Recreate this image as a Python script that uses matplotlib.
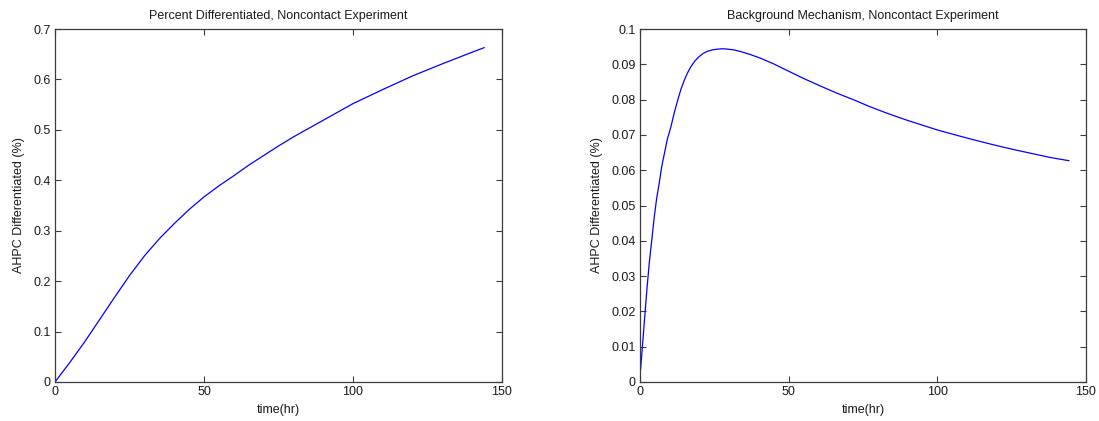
import matplotlib
matplotlib.use("Agg")
import matplotlib.pyplot as plt

plt.rcParams['font.family'] = ['Liberation Sans', 'DejaVu Sans']

# Left panel: percent differentiated
t_left = [0, 5, 10, 15, 20, 25, 30, 35, 40, 45, 50, 55, 60, 65, 70, 75, 80, 90,
          100, 110, 120, 130, 140, 144]
v_left = [0.0, 0.039, 0.080, 0.124, 0.168, 0.211, 0.250, 0.284, 0.314, 0.342,
          0.367, 0.389, 0.409, 0.430, 0.449, 0.468, 0.486, 0.519, 0.552, 0.580,
          0.607, 0.631, 0.654, 0.663]

# Right panel: background mechanism
t_right = [0.2, 1.5, 2.3, 3.1, 4.0, 4.8, 5.6, 6.5, 7.3, 8.2, 9.2, 10.4, 11.5, 12.7,
           13.8, 14.9, 16.0, 17.1, 18.5, 19.9, 21.3, 22.7, 24.4, 26.1, 27.8, 29.4,
           31.5, 33.9, 37.0, 40.6, 45.0, 49.6, 55.0, 60.8, 66.0, 72.0, 77.0, 83.2,
           90.0, 100, 110, 116, 121.3, 127, 132.5, 138, 144.2]
v_right = [0.0035, 0.0175, 0.0260, 0.0336, 0.0405, 0.0468, 0.0520, 0.0565, 0.0610,
           0.0647, 0.0688, 0.0723, 0.0762, 0.0799, 0.0830, 0.0855, 0.0876, 0.0893,
           0.0910, 0.0922, 0.0931, 0.0937, 0.0941, 0.0943, 0.0944, 0.0943, 0.0941,
           0.0936, 0.0928, 0.0917, 0.0901, 0.0882, 0.0860, 0.0838, 0.0819, 0.0799,
           0.0781, 0.0761, 0.0741, 0.0714, 0.0691, 0.0678, 0.0667, 0.0656, 0.0646,
           0.0636, 0.0627]

titles = ["Percent Differentiated, Noncontact Experiment",
          "Background Mechanism, Noncontact Experiment"]
xlabel = "time(hr)"
ylabel = "AHPC Differentiated (%)"
x_ticks = [0, 50, 100, 150]
left_yticks = [0, 0.1, 0.2, 0.3, 0.4, 0.5, 0.6, 0.7]
left_ylabels = ["0", "0.1", "0.2", "0.3", "0.4", "0.5", "0.6", "0.7"]
right_yticks = [0, 0.01, 0.02, 0.03, 0.04, 0.05, 0.06, 0.07, 0.08, 0.09, 0.1]
right_ylabels = ["0", "0.01", "0.02", "0.03", "0.04", "0.05", "0.06", "0.07", "0.08", "0.09", "0.1"]

fig = plt.figure(figsize=(10.99, 4.21), dpi=100)
W, H = 1099, 421
axL = fig.add_axes([55 / W, 1 - 382 / H, 447 / W, 353 / H])
axR = fig.add_axes([640 / W, 1 - 382 / H, 446 / W, 353 / H])

fs = 9
spine_col = "#3c3c3c"
text_col = "#1a1a1a"

def style(ax, yt, ylabs, ymax, title, tx, ty):
    ax.set_xlim(0, 150)
    ax.set_ylim(0, ymax)
    ax.set_xticks(x_ticks)
    ax.set_xticklabels([str(v) for v in x_ticks], fontsize=fs, color=text_col)
    ax.set_yticks(yt)
    ax.set_yticklabels(ylabs, fontsize=fs, color=text_col)
    ax.tick_params(direction="in", top=True, right=True, length=4, width=0.8,
                   color=spine_col, pad=3)
    for s in ax.spines.values():
        s.set_color(spine_col)
        s.set_linewidth(0.9)
    ax.set_title(title, fontsize=fs, color=text_col, pad=7)
    ax.set_xlabel(xlabel, fontsize=fs, color=text_col, labelpad=4)
    ax.set_ylabel(ylabel, fontsize=fs, color=text_col, labelpad=6)
    ax.plot(tx, ty, color="#0000ff", linewidth=0.9)

style(axL, left_yticks, left_ylabels, 0.7, titles[0], t_left, v_left)
style(axR, right_yticks, right_ylabels, 0.1, titles[1], t_right, v_right)

fig.savefig("out.png", dpi=100, facecolor="white")
